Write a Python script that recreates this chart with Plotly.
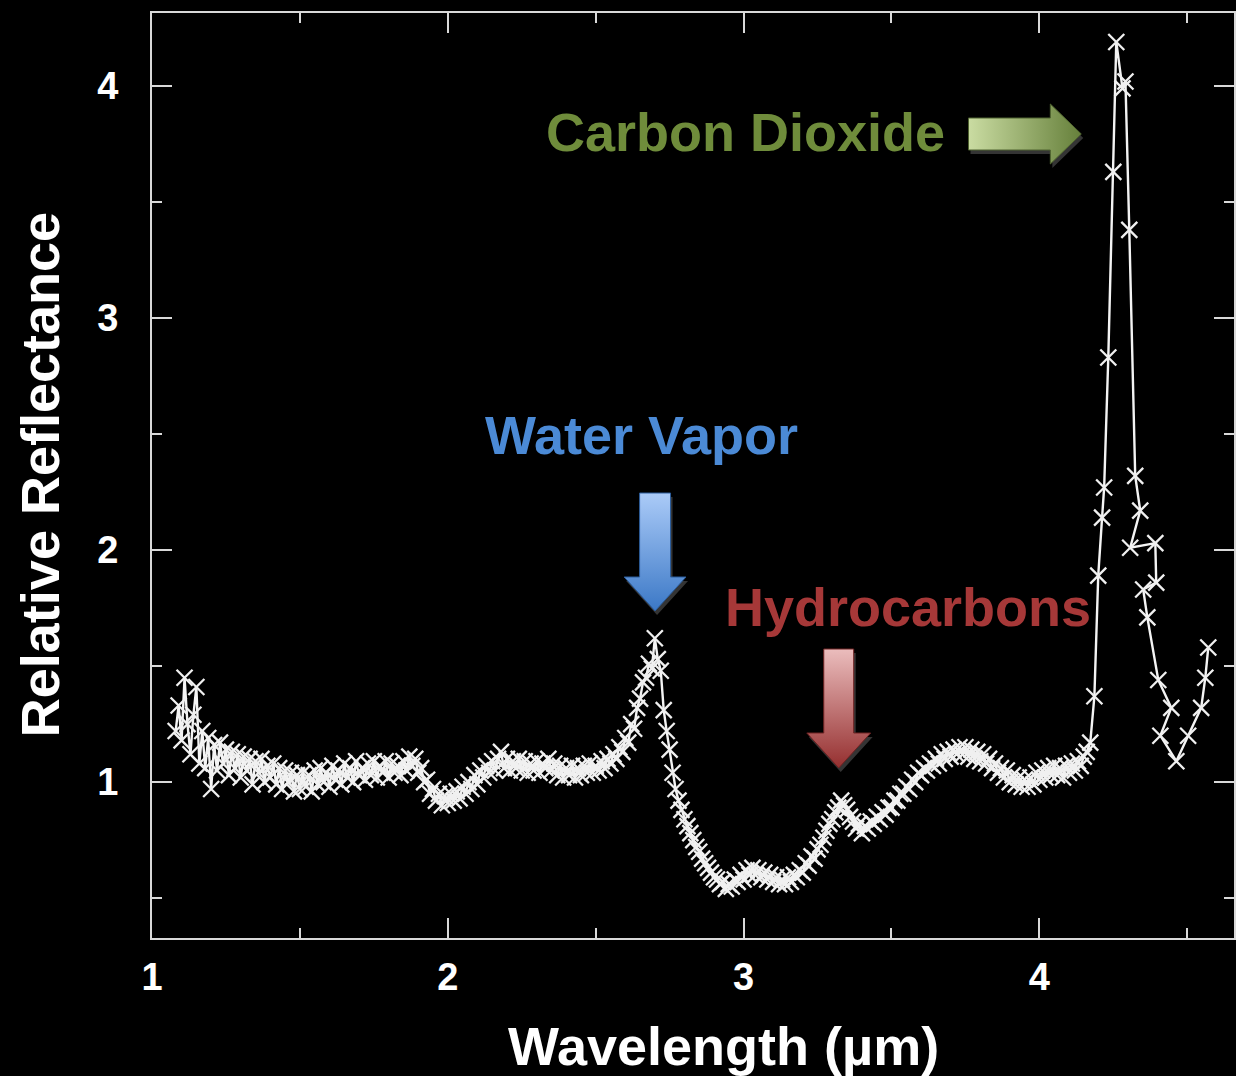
import plotly.graph_objects as go

# ---- spectrum data: wavelength (um) and relative reflectance ----
wl_short = [
    1.08, 1.09, 1.10, 1.11, 1.12, 1.13, 1.14, 1.15, 1.16, 1.17,
    1.18, 1.19, 1.20, 1.21, 1.22, 1.23, 1.24, 1.25, 1.26, 1.27,
    1.28, 1.29, 1.30, 1.31, 1.32, 1.33, 1.34, 1.35, 1.36, 1.37,
    1.38, 1.39, 1.40, 1.41, 1.42, 1.43, 1.44, 1.45, 1.46, 1.47,
    1.48, 1.49, 1.50, 1.51, 1.52, 1.53, 1.54, 1.55, 1.56, 1.57,
    1.58, 1.59, 1.60, 1.61, 1.62, 1.63, 1.64, 1.65, 1.66, 1.67,
    1.68, 1.69, 1.70, 1.71, 1.72, 1.73, 1.74, 1.75, 1.76, 1.77,
    1.78, 1.79, 1.80, 1.81, 1.82, 1.83, 1.84, 1.85, 1.86, 1.87,
    1.88, 1.89, 1.90, 1.91, 1.92, 1.93, 1.94, 1.95, 1.96, 1.97,
    1.98, 1.99, 2.00, 2.01, 2.02, 2.03, 2.04, 2.05, 2.06, 2.07,
    2.08, 2.09, 2.10, 2.11, 2.12, 2.13, 2.14, 2.15, 2.16, 2.17,
    2.18, 2.19, 2.20, 2.21, 2.22, 2.23, 2.24, 2.25, 2.26, 2.27,
    2.28, 2.29, 2.30, 2.31, 2.32, 2.33, 2.34, 2.35, 2.36, 2.37,
    2.38, 2.39, 2.40, 2.41, 2.42, 2.43, 2.44, 2.45, 2.46, 2.47,
    2.48, 2.49, 2.50, 2.51, 2.52, 2.53, 2.54, 2.55, 2.56, 2.57,
    2.58, 2.59, 2.60,
]
refl_short = [
    1.22, 1.33, 1.18, 1.45, 1.25, 1.12, 1.29, 1.41, 1.08, 1.22,
    1.06, 1.19, 0.97, 1.16, 1.05, 1.17, 1.08, 1.14, 1.03, 1.13,
    1.06, 1.12, 1.02, 1.11, 1.05, 1.10, 0.99, 1.09, 1.04, 1.10,
    1.00, 1.07, 1.02, 1.08, 0.99, 1.06, 0.97, 1.05, 1.00, 1.04,
    0.96, 1.03, 0.97, 1.04, 0.98, 1.03, 0.96, 1.05, 0.99, 1.06,
    1.00, 1.04, 0.98, 1.07, 1.01, 1.05, 0.99, 1.08, 1.02, 1.06,
    1.00, 1.09, 1.03, 1.06, 1.01, 1.08, 1.03, 1.09, 1.02, 1.07,
    1.04, 1.09, 1.02, 1.08, 1.04, 1.07, 1.03, 1.09, 1.05, 1.11,
    1.07, 1.10, 1.04, 1.06, 1.00, 1.01, 0.95, 0.97, 0.92, 0.95,
    0.90, 0.94, 0.91, 0.95, 0.92, 0.96, 0.93, 0.98, 0.95, 1.00,
    0.97, 1.03, 0.99, 1.05, 1.02, 1.07, 1.04, 1.09, 1.05, 1.10,
    1.13, 1.06, 1.10, 1.05, 1.09, 1.06, 1.10, 1.05, 1.09, 1.04,
    1.08, 1.05, 1.09, 1.04, 1.08, 1.06, 1.10, 1.05, 1.08, 1.03,
    1.07, 1.02, 1.06, 1.03, 1.07, 1.02, 1.06, 1.03, 1.07, 1.04,
    1.08, 1.04, 1.07, 1.05, 1.09, 1.06, 1.10, 1.08, 1.12, 1.10,
    1.15, 1.13, 1.19,
]

wl_mid = [
    2.61, 2.62, 2.63, 2.64, 2.65, 2.66, 2.67, 2.68, 2.69, 2.70,
    2.71, 2.72, 2.73, 2.74, 2.75, 2.76, 2.77, 2.78, 2.79, 2.80,
    2.81, 2.82, 2.83, 2.84, 2.85, 2.86, 2.87, 2.88, 2.89, 2.90,
    2.91, 2.92, 2.93, 2.94, 2.95, 2.96, 2.97, 2.98, 2.99, 3.00,
    3.01, 3.02, 3.03, 3.04, 3.05, 3.06, 3.07, 3.08, 3.09, 3.10,
    3.11, 3.12, 3.13, 3.14, 3.15, 3.16, 3.17, 3.18, 3.19, 3.20,
    3.21, 3.22, 3.23, 3.24, 3.25, 3.26, 3.27, 3.28, 3.29, 3.30,
    3.31, 3.32, 3.33, 3.34, 3.35, 3.36, 3.37, 3.38, 3.39, 3.40,
    3.41, 3.42, 3.43, 3.44, 3.45, 3.46, 3.47, 3.48, 3.49, 3.50,
    3.51, 3.52, 3.53, 3.54, 3.55, 3.56, 3.57, 3.58, 3.59, 3.60,
    3.61, 3.62, 3.63, 3.64, 3.65, 3.66, 3.67, 3.68, 3.69, 3.70,
    3.71, 3.72, 3.73, 3.74, 3.75, 3.76, 3.77, 3.78, 3.79, 3.80,
    3.81, 3.82, 3.83, 3.84, 3.85, 3.86, 3.87, 3.88, 3.89, 3.90,
    3.91, 3.92, 3.93, 3.94, 3.95, 3.96, 3.97, 3.98, 3.99, 4.00,
    4.01, 4.02, 4.03, 4.04, 4.05, 4.06, 4.07, 4.08, 4.09, 4.10,
    4.11, 4.12, 4.13, 4.14, 4.15, 4.16,
]
refl_mid = [
    1.17, 1.25, 1.23, 1.32, 1.36, 1.43, 1.45, 1.51, 1.49, 1.62,
    1.53, 1.48, 1.31, 1.22, 1.14, 1.04, 0.97, 0.92, 0.88, 0.84,
    0.81, 0.78, 0.75, 0.72, 0.70, 0.67, 0.65, 0.63, 0.61, 0.59,
    0.58, 0.56, 0.57, 0.54, 0.56, 0.55, 0.58, 0.57, 0.60, 0.58,
    0.62, 0.60, 0.63, 0.60, 0.62, 0.59, 0.61, 0.58, 0.60, 0.57,
    0.59, 0.56, 0.58, 0.56, 0.59, 0.57, 0.60, 0.59, 0.62, 0.61,
    0.65, 0.64, 0.68, 0.67, 0.71, 0.73, 0.76, 0.79, 0.82, 0.84,
    0.87, 0.89, 0.92, 0.90, 0.88, 0.85, 0.83, 0.80, 0.82, 0.78,
    0.81, 0.80, 0.83, 0.82, 0.85, 0.84, 0.87, 0.86, 0.89, 0.89,
    0.92, 0.92, 0.95, 0.95, 0.98, 0.97, 1.01, 1.00, 1.04, 1.03,
    1.06, 1.05, 1.08, 1.07, 1.10, 1.08, 1.12, 1.10, 1.13, 1.11,
    1.14, 1.12, 1.15, 1.12, 1.15, 1.11, 1.14, 1.10, 1.13, 1.09,
    1.12, 1.08, 1.10, 1.06, 1.08, 1.04, 1.06, 1.02, 1.05, 1.00,
    1.03, 0.99, 1.02, 0.98, 1.01, 0.98, 1.02, 0.99, 1.04, 1.01,
    1.05, 1.02, 1.06, 1.03, 1.07, 1.03, 1.06, 1.02, 1.07, 1.04,
    1.08, 1.05, 1.09, 1.07, 1.11, 1.13,
]

wl_co2 = [
    4.172, 4.186, 4.199, 4.212, 4.219, 4.233, 4.250, 4.260, 4.281, 4.291,
    4.304, 4.324, 4.341, 4.307, 4.392, 4.395, 4.351, 4.365, 4.402, 4.446,
    4.409, 4.463, 4.503, 4.547, 4.561, 4.571,
]
refl_co2 = [
    1.17, 1.37, 1.89, 2.14, 2.27, 2.83, 3.63, 4.19, 3.99, 4.02,
    3.38, 2.32, 2.17, 2.01, 2.03, 1.86, 1.83, 1.71, 1.44, 1.32,
    1.20, 1.09, 1.20, 1.32, 1.45, 1.58,
]

x_tick_vals = [1, 2, 3, 4]
y_tick_vals = [1, 2, 3, 4]

# ---- layout geometry ----
W, H = 1236, 1076
PLOT_LEFT, PLOT_RIGHT, PLOT_TOP, PLOT_BOTTOM = 152, 1236, 13, 938
X_RANGE = [1.0, 4.658]
Y_RANGE = [0.328, 4.315]

AXIS_COLOR = "#d9d9d9"
FONT = "Liberation Sans"


def px_to_data(px, py):
    """Convert page pixel position inside the plot area to data units."""
    x = X_RANGE[0] + (px - PLOT_LEFT) / (PLOT_RIGHT - PLOT_LEFT) * (X_RANGE[1] - X_RANGE[0])
    y = Y_RANGE[1] - (py - PLOT_TOP) / (PLOT_BOTTOM - PLOT_TOP) * (Y_RANGE[1] - Y_RANGE[0])
    return x, y


def px_to_paper(px, py):
    return ((px - PLOT_LEFT) / (PLOT_RIGHT - PLOT_LEFT),
            (PLOT_BOTTOM - py) / (PLOT_BOTTOM - PLOT_TOP))


def down_arrow(cx, top, body_w, head_start, head_w, tip):
    return [(cx - body_w / 2, top), (cx + body_w / 2, top), (cx + body_w / 2, head_start),
            (cx + head_w / 2, head_start), (cx, tip), (cx - head_w / 2, head_start),
            (cx - body_w / 2, head_start), (cx - body_w / 2, top)]


def right_arrow(cy, left, body_h, head_start, head_h, tip):
    return [(left, cy - body_h / 2), (head_start, cy - body_h / 2), (head_start, cy - head_h / 2),
            (tip, cy), (head_start, cy + head_h / 2), (head_start, cy + body_h / 2),
            (left, cy + body_h / 2), (left, cy - body_h / 2)]


def arrow_traces(poly, gradient_type, colorscale, border):
    traces = []
    # soft drop shadow
    sx, sy = zip(*[px_to_data(px + 2, py + 4) for px, py in poly])
    traces.append(go.Scatter(x=sx, y=sy, mode="lines", fill="toself",
                             fillcolor="rgba(70,70,70,0.75)", line=dict(width=0),
                             hoverinfo="skip", showlegend=False))
    ax, ay = zip(*[px_to_data(px, py) for px, py in poly])
    traces.append(go.Scatter(x=ax, y=ay, mode="lines", fill="toself",
                             fillgradient=dict(type=gradient_type, colorscale=colorscale),
                             line=dict(width=1, color=border),
                             hoverinfo="skip", showlegend=False))
    return traces


fig = go.Figure()

wl_all = wl_short + wl_mid + wl_co2
refl_all = refl_short + refl_mid + refl_co2

fig.add_trace(go.Scatter(
    x=wl_all, y=refl_all, mode="lines+markers",
    line=dict(color="#f4f4f4", width=2.4),
    marker=dict(symbol="x-thin", size=16, line=dict(color="#f0f0f0", width=2.3)),
    showlegend=False,
))

# gradient block arrows
for tr in arrow_traces(right_arrow(134, 970, 32, 1052, 60, 1083), "horizontal",
                       [[0, "#cadca2"], [1, "#66803b"]], "#4f6330"):
    fig.add_trace(tr)
for tr in arrow_traces(down_arrow(656, 493, 31, 577, 62, 611), "vertical",
                       [[0, "#3b78c6"], [1, "#abcbf8"]], "#2c5c9a"):
    fig.add_trace(tr)
for tr in arrow_traces(down_arrow(840, 649, 30, 733, 64, 768), "vertical",
                       [[0, "#952f2f"], [1, "#ebbdbd"]], "#6e2222"):
    fig.add_trace(tr)

axis_common = dict(
    showline=True, linecolor=AXIS_COLOR, linewidth=2, mirror="ticks",
    ticks="inside", ticklen=20, tickwidth=2, tickcolor=AXIS_COLOR,
    minor=dict(ticks="inside", ticklen=10, tickwidth=2, tickcolor=AXIS_COLOR, dtick=0.5),
    showgrid=False, zeroline=False,
    tickfont=dict(family=FONT, size=38, color="white", weight="bold"),
    tickmode="array",
)

fig.update_xaxes(range=X_RANGE, tickvals=x_tick_vals, ticklabelstandoff=4, **axis_common)
fig.update_yaxes(range=Y_RANGE, tickvals=y_tick_vals, ticklabelstandoff=24, **axis_common)

title_font = dict(family=FONT, size=54, color="white", weight="bold")
annotations = []
tx, ty = px_to_paper(725, 1046)
annotations.append(dict(text="Wavelength (µm)", x=tx, y=ty, xref="paper", yref="paper",
                        showarrow=False, xanchor="center", yanchor="middle", font=title_font))
tx, ty = px_to_paper(40, 475)
annotations.append(dict(text="Relative Reflectance", x=tx, y=ty, xref="paper", yref="paper",
                        showarrow=False, xanchor="center", yanchor="middle", textangle=-90,
                        font=title_font))

label_specs = [
    ("Carbon Dioxide", 747, 132, "#6f8c3b"),
    ("Water Vapor", 642, 435, "#4b8ad6"),
    ("Hydrocarbons", 909, 607, "#a63838"),
]
for text, px, py, color in label_specs:
    tx, ty = px_to_paper(px, py)
    annotations.append(dict(text=text, x=tx, y=ty, xref="paper", yref="paper",
                            showarrow=False, xanchor="center", yanchor="middle",
                            font=dict(family=FONT, size=54, color=color, weight="bold")))

fig.update_layout(
    width=W, height=H,
    margin=dict(l=PLOT_LEFT, r=W - PLOT_RIGHT, t=PLOT_TOP, b=H - PLOT_BOTTOM, pad=0),
    paper_bgcolor="black", plot_bgcolor="black",
    annotations=annotations,
    showlegend=False,
)

fig.write_html("out.html")
